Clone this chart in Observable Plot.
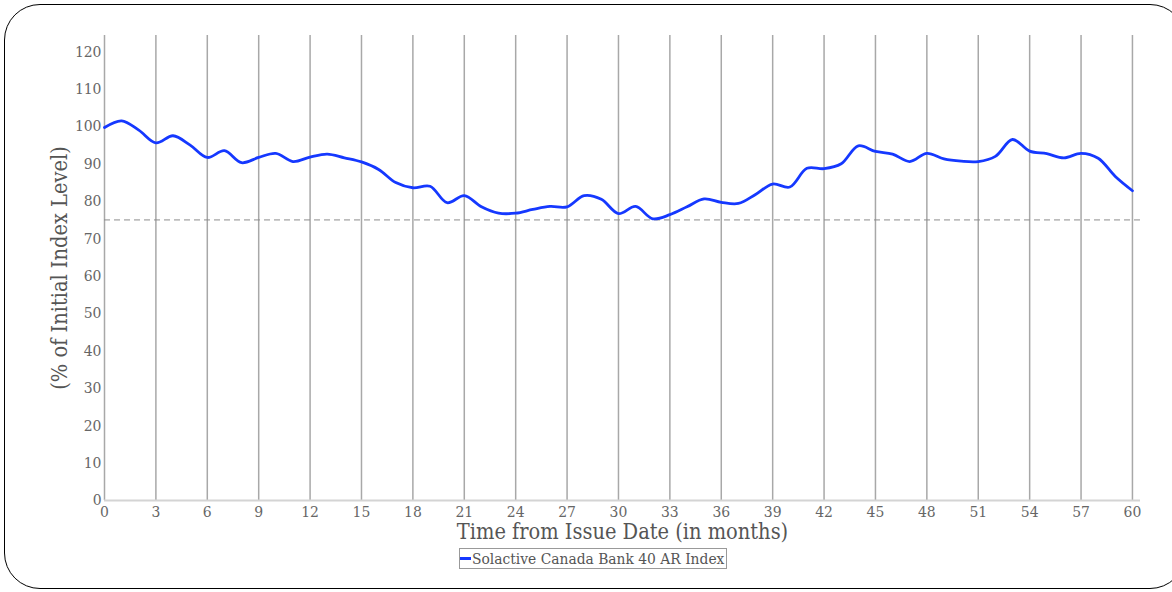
<!DOCTYPE html>
<html>
<head>
<meta charset="utf-8">
<script src="https://cdn.jsdelivr.net/npm/d3@7"></script>
<script src="https://cdn.jsdelivr.net/npm/@observablehq/plot@0.6"></script>
<style>
  html, body { margin: 0; padding: 0; background: #fff; }
  #wrap { position: relative; width: 1172px; height: 592px; overflow: hidden; font-family: "DejaVu Serif", serif; font-stretch: condensed; }
  #border { position: absolute; left: 4px; top: 4px; width: 1182px; height: 585px; border: 1.5px solid #000; border-radius: 36px; box-sizing: border-box; }
  #chart { position: absolute; left: 0; top: 0; }
  #legend { position: absolute; left: 459px; top: 548px; height: 21px; box-sizing: border-box; border: 1px solid #999; padding: 0 2px 0 0; display: flex; align-items: center; font-size: 15.4px; color: #555; white-space: nowrap; }
  #legend .sw { display: inline-block; width: 11px; height: 2.5px; background: #1538ff; margin-right: 1px; }
</style>
</head>
<body>
<div id="wrap">
  <div id="border"></div>
  <div id="chart"></div>
  <div id="legend"></div>
</div>
<script>
const seriesName = "Solactive Canada Bank 40 AR Index";
const months = d3.range(0, 61);
const indexLevel = [
  99.7, 101.5, 99.0, 95.6, 97.5, 95.0, 91.7, 93.5, 90.3, 91.7,
  92.8, 90.6, 91.8, 92.6, 91.6, 90.5, 88.5, 85.0, 83.6, 84.0,
  79.6, 81.5, 78.5, 76.8, 76.8, 77.8, 78.6, 78.5, 81.5, 80.5,
  76.7, 78.6, 75.3, 76.4, 78.5, 80.6, 79.7, 79.4, 81.8, 84.6,
  83.8, 88.8, 88.7, 90.0, 94.8, 93.3, 92.6, 90.6, 92.8, 91.3,
  90.7, 90.6, 92.0, 96.5, 93.4, 92.7, 91.6, 92.8, 91.5, 86.6,
  82.8
];
const barrier = [75];
const xTicks = d3.range(0, 61, 3);
const yTicks = d3.range(0, 121, 10);
const xTitle = "Time from Issue Date (in months)";
const yTitle = "(% of Initial Index Level)";

const data = months.map((m, i) => ({month: m, level: indexLevel[i]}));

const chart = Plot.plot({
  width: 1172,
  height: 545,
  marginLeft: 104,
  marginRight: 32,
  marginTop: 35,
  marginBottom: 45,
  style: {fontFamily: "DejaVu Serif, serif", fontStretch: "condensed", background: "transparent", overflow: "visible"},
  x: {domain: [0, 60.47]},
  y: {domain: [0, 124.3]},
  marks: [
    Plot.ruleX(xTicks, {stroke: "#a8a8a8", strokeWidth: 1.5}),
    Plot.ruleY([0], {stroke: "#d4d4d4", strokeWidth: 2}),
    Plot.ruleY(barrier, {stroke: "#8c8c8c", strokeWidth: 1, strokeDasharray: "6,4"}),
    Plot.line(data, {x: "month", y: "level", stroke: "#1538ff", strokeWidth: 2.8, curve: "catmull-rom"}),
    Plot.axisX({ticks: xTicks, tickSize: 0, tickPadding: 5, fontSize: 15.5, color: "#666",
      label: xTitle, labelAnchor: "center", labelArrow: "none", labelOffset: 38}),
    Plot.axisY({ticks: yTicks, tickSize: 0, tickPadding: 3, fontSize: 15.5, color: "#666",
      label: yTitle, labelAnchor: "center", labelArrow: "none", labelOffset: 53})
  ]
});
document.getElementById("chart").appendChild(chart);

// style axis titles larger
chart.querySelectorAll("g[aria-label='x-axis label'] text, g[aria-label='y-axis label'] text").forEach(t => {
  t.setAttribute("font-size", 21.6);
  t.setAttribute("fill", "#555");
});

const lg = document.getElementById("legend");
lg.innerHTML = `<span class="sw"></span><span>${seriesName}</span>`;
</script>
</body>
</html>
